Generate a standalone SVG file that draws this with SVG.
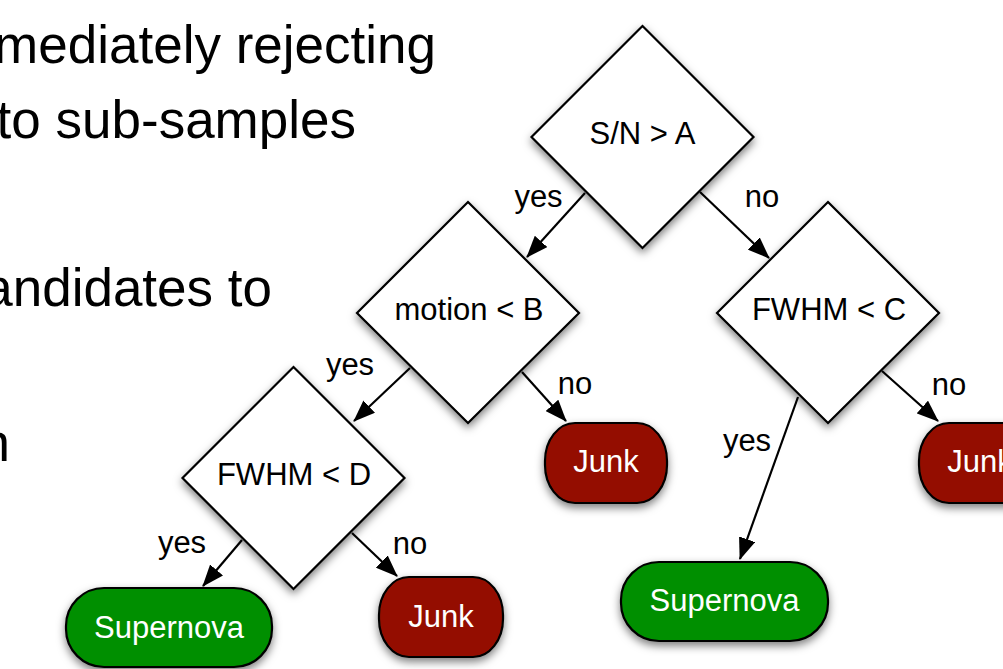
<svg xmlns="http://www.w3.org/2000/svg" width="1003" height="669" viewBox="0 0 1003 669">
<defs>
<filter id="sh" x="-20%" y="-20%" width="140%" height="150%">
<feDropShadow dx="0" dy="4" stdDeviation="4" flood-color="#000" flood-opacity="0.5"/>
</filter>
<marker id="ah" viewBox="0 0 22 17" refX="21" refY="8.5" markerWidth="22" markerHeight="17" markerUnits="userSpaceOnUse" orient="auto">
<path d="M0,0 L22,8.5 L0,17 Z" fill="#000"/>
</marker>
</defs>
<style>
.body{font-family:"Liberation Sans",Arial,sans-serif;font-size:53px;fill:#000}
.t{font-family:"Liberation Sans",Arial,sans-serif;font-size:31px;fill:#000;text-anchor:middle}
.w{fill:#fff}
.dia{fill:#fff;stroke:#000;stroke-width:2.2;filter:url(#sh)}
.junk{fill:#941100;stroke:#000;stroke-width:2.2;filter:url(#sh)}
.sn{fill:#008f00;stroke:#000;stroke-width:2.2;filter:url(#sh)}
.c{stroke:#000;stroke-width:2.2;fill:none;marker-end:url(#ah)}
</style>
<rect width="1003" height="669" fill="#fff"/>
<g id="bodytext">
<text class="body" x="436" y="63" text-anchor="end">mediately rejecting</text>
<text class="body" x="356" y="138" text-anchor="end">to sub-samples</text>
<text class="body" x="272" y="306" text-anchor="end">andidates to</text>
<text class="body" x="10" y="461" text-anchor="end">n</text>
</g>
<g id="connectors">
<line class="c" x1="585" y1="193" x2="527" y2="257"/>
<line class="c" x1="700" y1="192" x2="769" y2="258"/>
<line class="c" x1="410" y1="368" x2="354" y2="421"/>
<line class="c" x1="522" y1="372" x2="566" y2="421"/>
<line class="c" x1="242" y1="540" x2="203" y2="586"/>
<line class="c" x1="352" y1="533" x2="397" y2="576"/>
<line class="c" x1="798" y1="397" x2="740" y2="559"/>
<line class="c" x1="882" y1="371" x2="938" y2="421"/>
<text class="t" x="538.5" y="207">yes</text>
<text class="t" x="762" y="207">no</text>
<text class="t" x="350" y="375">yes</text>
<text class="t" x="575" y="394">no</text>
<text class="t" x="182" y="553">yes</text>
<text class="t" x="410" y="554">no</text>
<text class="t" x="747" y="451">yes</text>
<text class="t" x="949" y="395">no</text>
</g>
<g id="n-sn">
<path class="dia" d="M642.5,26 L753.5,137 L642.5,248 L531.5,137 Z"/>
<text class="t" x="642.5" y="144">S/N &gt; A</text>
</g>
<g id="n-motion">
<path class="dia" d="M468,202 L579,313 L468,423 L357,313 Z"/>
<text class="t" x="469" y="320">motion &lt; B</text>
</g>
<g id="n-fwhmc">
<path class="dia" d="M828,202 L939,313 L828,423 L717,313 Z"/>
<text class="t" x="829" y="320">FWHM &lt; C</text>
</g>
<g id="n-fwhmd">
<path class="dia" d="M293.5,367 L404.5,478 L293.5,589 L182.5,478 Z"/>
<text class="t" x="294" y="485">FWHM &lt; D</text>
</g>
<g id="n-junk1">
<rect class="junk" x="545" y="423" width="122" height="80" rx="30" ry="38"/>
<text class="t w" x="606" y="472">Junk</text>
</g>
<g id="n-junk2">
<rect class="junk" x="919" y="423" width="122" height="80" rx="30" ry="38"/>
<text class="t w" x="980" y="472">Junk</text>
</g>
<g id="n-junk3">
<rect class="junk" x="379" y="577" width="124" height="80" rx="30" ry="38"/>
<text class="t w" x="441" y="627">Junk</text>
</g>
<g id="n-super1">
<rect class="sn" x="621" y="562" width="207" height="79" rx="38" ry="38"/>
<text class="t w" x="724.5" y="611">Supernova</text>
</g>
<g id="n-super2">
<rect class="sn" x="66" y="588" width="206" height="79" rx="38" ry="38"/>
<text class="t w" x="169" y="638">Supernova</text>
</g>
</svg>
